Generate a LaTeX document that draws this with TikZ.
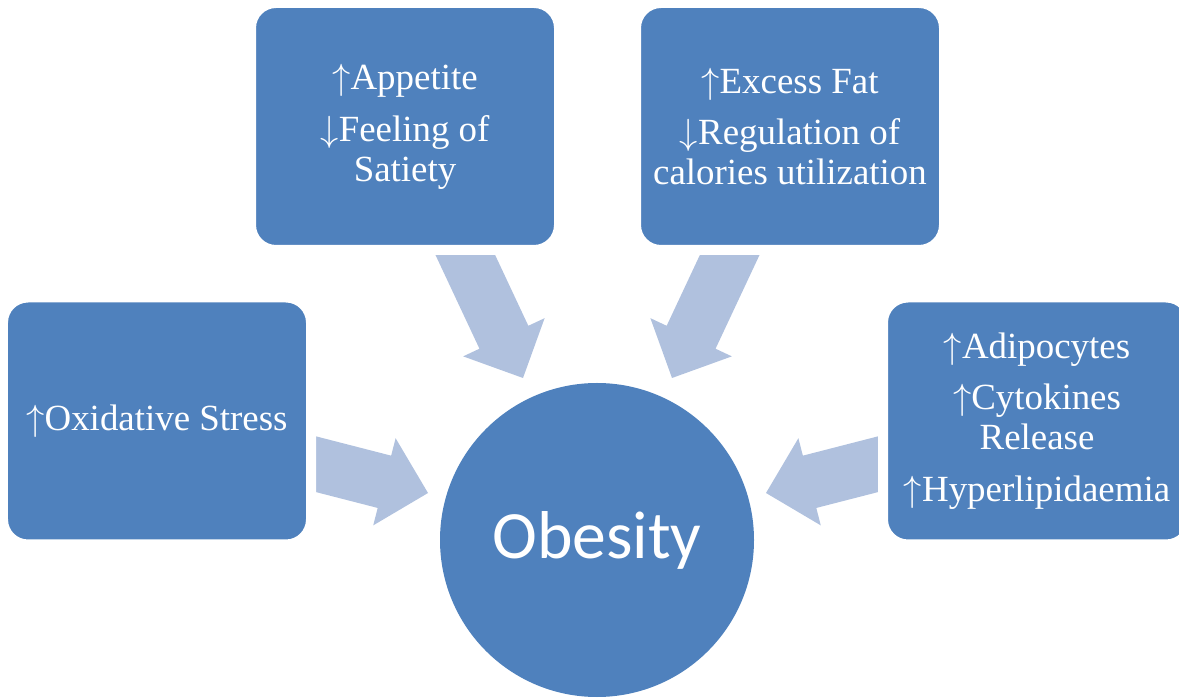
\documentclass[tikz,border=0pt]{standalone}
\usepackage{fontspec}
\setmainfont{Liberation Serif}
\newfontfamily\hubfont{Carlito}
\usepackage{tikz}
\usetikzlibrary{calc}
\definecolor{boxblue}{RGB}{79,129,189}
\definecolor{arrowblue}{RGB}{176,193,222}
\newcommand{\up}{$\uparrow$}
\newcommand{\down}{$\downarrow$}
% block arrow from base #1 to tip #2
\newcommand{\blockarrow}[2]{%
  \fill[arrowblue] ($(#1)!0.54cm!90:(#2)$)
    -- ($(#2)!0.9cm!(#1)!0.54cm!-90:(#1)$)
    -- ($(#2)!0.9cm!(#1)!0.9cm!-90:(#1)$)
    -- (#2)
    -- ($(#2)!0.9cm!(#1)!0.9cm!90:(#1)$)
    -- ($(#2)!0.9cm!(#1)!0.54cm!90:(#1)$)
    -- ($(#1)!0.54cm!-90:(#2)$) -- cycle;}

\begin{document}
\begin{tikzpicture}[
  causebox/.style={fill=boxblue,draw=white,line width=0.2cm,rounded corners=0.5cm,
    minimum width=6.16cm,minimum height=4.94cm,align=center,text=white,inner sep=0pt,
    font=\fontsize{21}{22.7}\selectfont},
  hub/.style={circle,fill=boxblue,minimum size=6.28cm,text=white,
    font=\hubfont\fontsize{38.5}{40}\selectfont}]
\useasboundingbox (0,0) rectangle (23.58,13.94);
% arrows (bases hidden under the boxes)
\coordinate (appetite-out) at (9.006,9.48);  \coordinate (appetite-in) at (10.46,6.38);
\coordinate (fat-out) at (14.894,9.48);      \coordinate (fat-in) at (13.44,6.38);
\coordinate (oxid-out) at (5.68,4.82);       \coordinate (oxid-in) at (8.56,4.08);
\coordinate (adipo-out) at (18.20,4.82);     \coordinate (adipo-in) at (15.32,4.08);
\foreach \s in {appetite,fat,oxid,adipo}
  \blockarrow{\s-out}{\s-in};
% causes
\node[causebox] (appetite) at (8.10,11.41) {\up Appetite\\[6.8pt]\down Feeling of\\Satiety};
\node[causebox] (fat) at (15.80,11.41) {\up Excess Fat\\[6.8pt]\down Regulation of\\calories utilization};
\node[causebox] (oxid) at (3.14,5.52) {\up Oxidative Stress};
\node[causebox] (adipo) at (20.74,5.52) {\up Adipocytes\\[6.8pt]\up Cytokines\\Release\\[6.8pt]\up Hyperlipidaemia};
% centre
\node[hub] (obesity) at (11.94,3.14) {Obesity};
\end{tikzpicture}
\end{document}
